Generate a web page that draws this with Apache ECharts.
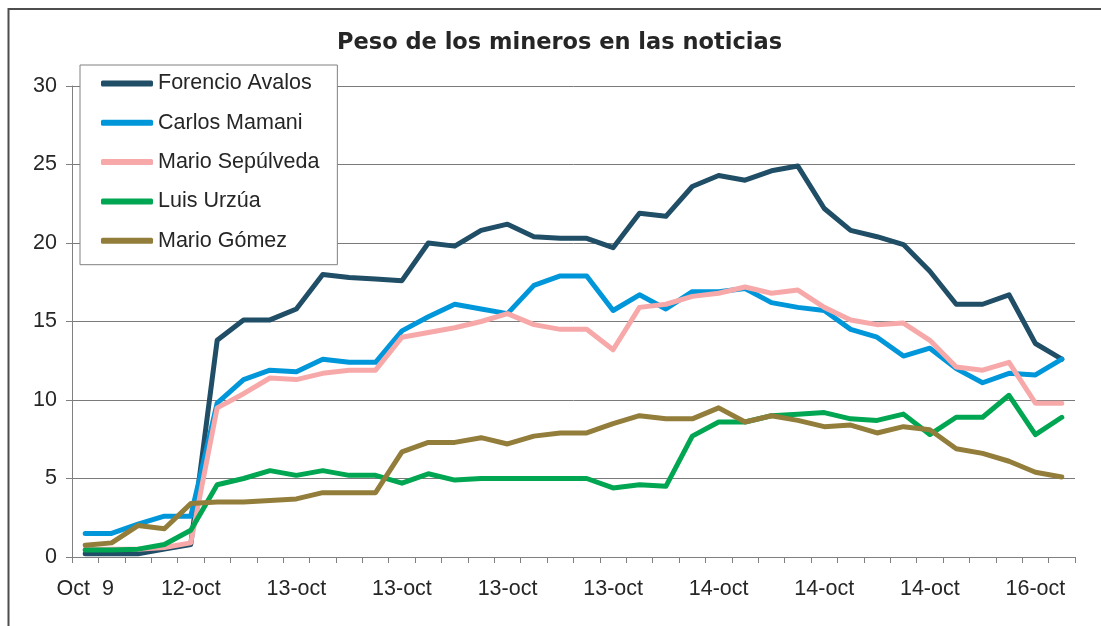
<!DOCTYPE html>
<html>
<head>
<meta charset="utf-8">
<script src="https://cdn.jsdelivr.net/npm/echarts@6/dist/echarts.min.js"></script>
<style>
html,body{margin:0;padding:0;background:#fff;}
#chart{width:1101px;height:626px;}
</style>
</head>
<body>
<div id="chart"></div>
<script>
const titleText = 'Peso de los mineros en las noticias';
const categories = [
  'Oct  9','Oct  9','Oct  9','Oct  9',
  '12-oct','12-oct','12-oct','12-oct',
  '13-oct','13-oct','13-oct','13-oct',
  '13-oct','13-oct','13-oct','13-oct',
  '13-oct','13-oct','13-oct','13-oct',
  '13-oct','13-oct','13-oct','13-oct',
  '14-oct','14-oct','14-oct','14-oct',
  '14-oct','14-oct','14-oct','14-oct',
  '14-oct','14-oct','14-oct','14-oct',
  '16-oct','16-oct'
];
const seriesNames = ['Forencio Avalos','Carlos Mamani','Mario Sepúlveda','Luis Urzúa','Mario Gómez'];
const forencio = [0.2,0.2,0.2,0.5,0.8,13.8,15.1,15.1,15.8,18.0,17.8,17.7,17.6,20.0,19.8,20.8,21.2,20.4,20.3,20.3,19.7,21.9,21.7,23.6,24.3,24.0,24.6,24.9,22.2,20.8,20.4,19.9,18.2,16.1,16.1,16.7,13.6,12.6];
const carlos = [1.5,1.5,2.1,2.6,2.6,9.8,11.3,11.9,11.8,12.6,12.4,12.4,14.4,15.3,16.1,15.8,15.5,17.3,17.9,17.9,15.7,16.7,15.8,16.9,16.9,17.1,16.2,15.9,15.7,14.5,14.0,12.8,13.3,12.0,11.1,11.7,11.6,12.6];
const marioS = [0.5,0.5,0.5,0.6,0.9,9.5,10.4,11.4,11.3,11.7,11.9,11.9,14.0,14.3,14.6,15.0,15.5,14.8,14.5,14.5,13.2,15.9,16.1,16.6,16.8,17.2,16.8,17.0,15.9,15.1,14.8,14.9,13.8,12.1,11.9,12.4,9.8,9.8];
const luis = [0.45,0.45,0.5,0.8,1.7,4.6,5.0,5.5,5.2,5.5,5.2,5.2,4.7,5.3,4.9,5.0,5.0,5.0,5.0,5.0,4.4,4.6,4.5,7.7,8.6,8.6,9.0,9.1,9.2,8.8,8.7,9.1,7.8,8.9,8.9,10.3,7.8,8.9];
const marioG = [0.75,0.9,2.0,1.8,3.4,3.5,3.5,3.6,3.7,4.1,4.1,4.1,6.7,7.3,7.3,7.6,7.2,7.7,7.9,7.9,8.5,9.0,8.8,8.8,9.5,8.6,9.0,8.7,8.3,8.4,7.9,8.3,8.1,6.9,6.6,6.1,5.4,5.1];
const seriesData = [forencio, carlos, marioS, luis, marioG];
const colors = ['#1f4e66','#0097da','#f7a9aa','#00a651','#937d3a'];

const chart = echarts.init(document.getElementById('chart'));
const font = '"Liberation Sans", Arial, sans-serif';
chart.setOption({
  animation: false,
  backgroundColor: '#fff',
  color: colors,
  title: {
    text: titleText,
    left: 337, top: 32, padding: 0,
    textStyle: {fontFamily: '"DejaVu Sans", sans-serif', fontWeight: 'bold', fontSize: 22.5, color: '#262626'}
  },
  graphic: [{
    type: 'polyline', silent: true,
    shape: {points: [[8.5, 700], [8.5, 9], [1200, 9]]},
    style: {stroke: '#4d4d4d', lineWidth: 2, fill: null}
  }],
  legend: {
    orient: 'vertical', left: 80, top: 65,
    data: seriesNames,
    icon: 'roundRect', itemWidth: 52, itemHeight: 6, itemGap: 17.3,
    padding: [7.5, 18, 13, 21],
    backgroundColor: '#fff', borderColor: '#808080', borderWidth: 1,
    selectedMode: false,
    textStyle: {fontFamily: font, fontSize: 21.5, color: '#262626'}
  },
  grid: {left: 72, right: 26, top: 86, bottom: 69, containLabel: false},
  xAxis: {
    type: 'category', data: categories, boundaryGap: true,
    axisLine: {lineStyle: {color: '#808080', width: 1}},
    axisTick: {show: true, interval: 0, length: 6, lineStyle: {color: '#808080'}},
    axisLabel: {interval: 3, margin: 21, fontFamily: font, fontSize: 21.5, color: '#262626'},
    splitLine: {show: false}
  },
  yAxis: {
    type: 'value', min: 0, max: 30, interval: 5,
    axisLine: {show: true, lineStyle: {color: '#808080', width: 1}},
    axisTick: {show: true, length: 6, lineStyle: {color: '#808080'}},
    axisLabel: {margin: 15, fontFamily: font, fontSize: 21.5, color: '#262626'},
    splitLine: {lineStyle: {color: '#7a7a7a', width: 1}}
  },
  series: seriesNames.map((n, i) => ({
    name: n, type: 'line', data: seriesData[i],
    showSymbol: false, symbol: 'none',
    lineStyle: {width: 5, color: colors[i], cap: 'round', join: 'round'},
    itemStyle: {color: colors[i]},
    z: 2 + i
  }))
});
</script>
</body>
</html>
